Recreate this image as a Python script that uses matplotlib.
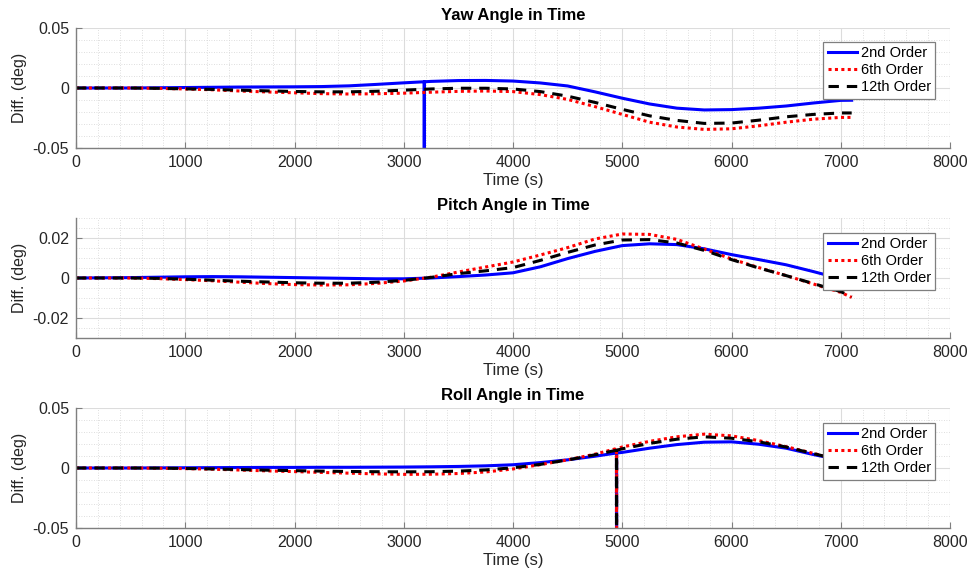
import numpy as np
import matplotlib
matplotlib.use("Agg")
import matplotlib.pyplot as plt
from matplotlib.ticker import MultipleLocator

plt.rcParams['font.family'] = ['Liberation Sans', 'DejaVu Sans']

# ---------------- data ----------------
t = [0, 250, 500, 750, 1000, 1250, 1500, 1750, 2000, 2250, 2500, 2750, 3000,
     3250, 3500, 3750, 4000, 4250, 4500, 4750, 5000, 5250, 5500, 5750, 6000,
     6250, 6500, 6750, 7000, 7100]

labels = ['2nd Order', '6th Order', '12th Order']

yaw_2nd = [0, 0, 0, 0.0002, 0.0004, 0.0006, 0.0008, 0.0009, 0.001, 0.0012, 0.0018, 0.003, 0.0043,
           0.0055, 0.0062, 0.0063, 0.0058, 0.0042, 0.0017, -0.0032, -0.0085, -0.0133, -0.0168, -0.0183, -0.018,
           -0.0168, -0.015, -0.0125, -0.0103, -0.0102]
yaw_6th = [0, 0, 0, -0.0003, -0.0008, -0.0015, -0.0025, -0.0033, -0.004, -0.0047, -0.005, -0.0048, -0.0043,
           -0.0035, -0.0028, -0.0025, -0.003, -0.0055, -0.0095, -0.0155, -0.022, -0.0285, -0.0325, -0.0345, -0.034,
           -0.0315, -0.0285, -0.026, -0.0245, -0.0245]
yaw_12th = [0, 0, 0, -0.0003, -0.0007, -0.0012, -0.0018, -0.0024, -0.0029, -0.0032, -0.0032, -0.0027, -0.0018,
            -0.0008, -0.0002, -0.0002, -0.0008, -0.003, -0.0068, -0.012, -0.0178, -0.0232, -0.027, -0.0295, -0.0292,
            -0.0268, -0.024, -0.022, -0.0208, -0.0208]

pitch_2nd = [0, 0.0001, 0.0002, 0.0004, 0.0006, 0.0007, 0.0006, 0.0004, 0.0002, 0.0, -0.0002, -0.0004, -0.0004,
             0.0, 0.0007, 0.0015, 0.0026, 0.0056, 0.0097, 0.0133, 0.0162, 0.0171, 0.0167, 0.0146, 0.0117,
             0.0092, 0.0066, 0.0032, -0.0004, -0.0016]
pitch_6th = [0, 0, 0, -0.0003, -0.0008, -0.0014, -0.0021, -0.0028, -0.0033, -0.0035, -0.0034, -0.0027, -0.0015,
             0.0004, 0.003, 0.0055, 0.008, 0.0115, 0.0152, 0.0195, 0.022, 0.0218, 0.0193, 0.0145, 0.0095,
             0.0052, 0.0012, -0.003, -0.0072, -0.0097]
pitch_12th = [0, 0, 0, -0.0002, -0.0006, -0.0011, -0.0016, -0.002, -0.0024, -0.0026, -0.0026, -0.0021, -0.0012,
              0.0003, 0.0022, 0.0036, 0.0052, 0.0088, 0.0128, 0.0165, 0.019, 0.0192, 0.0175, 0.0138, 0.0092,
              0.005, 0.0012, -0.0028, -0.0068, -0.0094]

roll_2nd = [0, 0, 0, 0.0001, 0.0002, 0.0003, 0.0004, 0.0005, 0.0005, 0.0006, 0.0006, 0.0007, 0.0008,
            0.001, 0.0013, 0.0018, 0.0027, 0.0045, 0.0068, 0.0098, 0.013, 0.0165, 0.0195, 0.0215, 0.0218,
            0.0198, 0.0165, 0.0112, 0.0065, 0.0045]
roll_6th = [0, 0, 0, -0.0002, -0.0005, -0.001, -0.0017, -0.0024, -0.003, -0.0037, -0.0043, -0.0049, -0.0053,
            -0.0052, -0.0046, -0.0033, -0.0008, 0.0028, 0.0068, 0.0115, 0.0175, 0.0222, 0.026, 0.0282, 0.0268,
            0.0228, 0.0178, 0.0122, 0.0065, 0.0045]
roll_12th = [0, 0, 0, -0.0001, -0.0004, -0.0008, -0.0013, -0.0018, -0.0022, -0.0026, -0.0029, -0.0031, -0.0032,
             -0.0031, -0.0026, -0.0016, 0.0002, 0.003, 0.0067, 0.011, 0.016, 0.0205, 0.024, 0.026, 0.0248,
             0.0218, 0.0175, 0.012, 0.0065, 0.0045]

# glitch samples (time, value) in the recorded data
yaw_2nd_spike_t = [3187, 3188, 3189]
yaw_2nd_spike_v = [0.0052, -0.2, 0.0052]
roll_spike_t = [4947, 4948, 4949]
roll_2nd_spike_v = [0.0125, -0.2, 0.0125]
roll_6th_spike_v = [0.0162, -0.2, 0.0162]
roll_12th_spike_v = [0.0148, -0.2, 0.0148]


def merge(tb, yb, ts=None, ys=None):
    tt = list(tb)
    yy = list(yb)
    if ts is not None:
        tt += list(ts)
        yy += list(ys)
    order = np.argsort(tt, kind='stable')
    return np.asarray(tt)[order], np.asarray(yy)[order]


panels = [
    dict(title='Yaw Angle in Time', ylim=(-0.05, 0.05), minor=0.01,
         ticks=[-0.05, 0, 0.05], ticklabels=['-0.05', '0', '0.05'],
         series=[merge(t, yaw_2nd, yaw_2nd_spike_t, yaw_2nd_spike_v),
                 merge(t, yaw_6th), merge(t, yaw_12th)],
         axpos=[76, 28, 950, 148], leg_top=0.883),
    dict(title='Pitch Angle in Time', ylim=(-0.03, 0.03), minor=0.005,
         ticks=[-0.02, 0, 0.02], ticklabels=['-0.02', '0', '0.02'],
         series=[merge(t, pitch_2nd), merge(t, pitch_6th), merge(t, pitch_12th)],
         axpos=[76, 218, 950, 338], leg_top=0.875),
    dict(title='Roll Angle in Time', ylim=(-0.05, 0.05), minor=0.01,
         ticks=[-0.05, 0, 0.05], ticklabels=['-0.05', '0', '0.05'],
         series=[merge(t, roll_2nd, roll_spike_t, roll_2nd_spike_v),
                 merge(t, roll_6th, roll_spike_t, roll_6th_spike_v),
                 merge(t, roll_12th, roll_spike_t, roll_12th_spike_v)],
         axpos=[76, 408, 950, 528], leg_top=0.875),
]

W, H = 970, 579
fig = plt.figure(figsize=(W / 100, H / 100), dpi=100)

styles = [dict(color='#0000ff', lw=2.2, ls='-'),
          dict(color='#ff0000', lw=2.2, ls=(0, (1, 1.1))),
          dict(color='#000000', lw=2.2, ls=(0, (3.4, 2.6)))]

spine_c = '#7f7f7f'
for p in panels:
    x0, y0, x1, y1 = p['axpos']
    ax = fig.add_axes([x0 / W, 1 - y1 / H, (x1 - x0) / W, (y1 - y0) / H])
    for (tt, yy), st, lab in zip(p['series'], styles, labels):
        ax.plot(tt, yy, color=st['color'], lw=st['lw'], linestyle=st['ls'], label=lab)
    ax.set_xlim(0, 8000)
    ax.set_ylim(*p['ylim'])
    ax.set_xticks(range(0, 8001, 1000))
    ax.set_yticks(p['ticks'])
    ax.set_yticklabels(p['ticklabels'])
    ax.xaxis.set_minor_locator(MultipleLocator(200))
    ax.yaxis.set_minor_locator(MultipleLocator(p['minor']))
    ax.grid(which='major', color='#dcdcdc', lw=0.8, ls='-')
    ax.grid(which='minor', color='#d4d4d4', lw=0.6, ls=(0, (1, 2)))
    ax.set_axisbelow(True)
    for s in ['top', 'right']:
        ax.spines[s].set_visible(False)
    for s in ['left', 'bottom']:
        ax.spines[s].set_color(spine_c)
        ax.spines[s].set_linewidth(1.0)
    ax.tick_params(which='major', direction='in', length=4, width=0.8, color=spine_c,
                   labelsize=11.5, labelcolor='#262626', pad=5)
    ax.tick_params(which='minor', length=0)
    ax.set_title(p['title'], fontsize=12, fontweight='bold', pad=6)
    ax.set_xlabel('Time (s)', fontsize=12, color='#262626', labelpad=2)
    ax.set_ylabel('Diff. (deg)', fontsize=11.5, color='#262626', labelpad=4)
    leg = ax.legend(loc='upper right', bbox_to_anchor=(0.983, p['leg_top']),
                    borderaxespad=0, fontsize=10.5, frameon=True, fancybox=False,
                    framealpha=1, edgecolor=spine_c, handlelength=2.0,
                    handletextpad=0.25, labelspacing=0.2, borderpad=0.3)
    leg.get_frame().set_linewidth(0.9)

fig.savefig('out.png', dpi=100)
